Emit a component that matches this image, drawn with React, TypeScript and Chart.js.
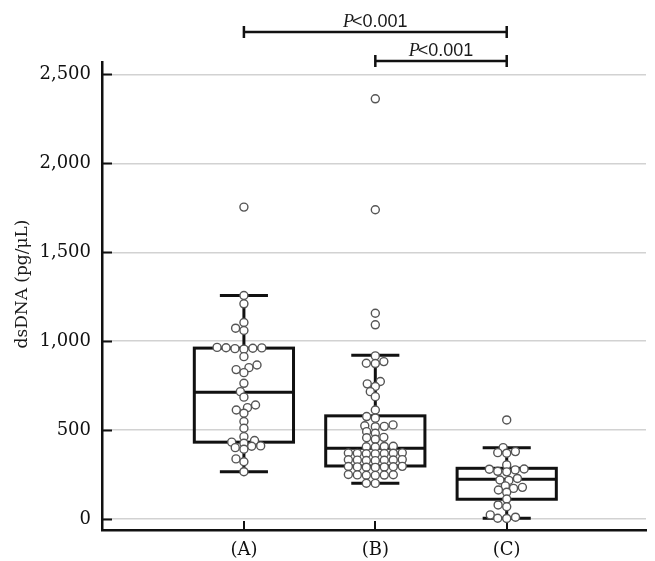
import { useEffect, useRef } from "react";
import { Chart, registerables } from "chart.js";

Chart.register(...registerables);

// ---------- data ----------
const categories = ["(A)", "(B)", "(C)"];

const groupA = [
  1754, 1257, 1210, 1105, 1073, 1060, 958, 962, 955, 965, 960, 963, 913, 866, 851, 840,
  823, 763, 716, 685, 641, 626, 613, 595, 548, 510, 463, 441, 432, 426, 411, 409, 401,
  392, 338, 322, 266,
];
const groupB = [
  2363, 1739, 1157, 1092, 917, 885, 876, 874, 773, 760, 745, 716, 688, 613, 576, 567, 529,
  524, 521, 519, 491, 482, 459, 457, 448, 409, 408, 406, 405, 372, 371, 370, 369, 368, 367,
  366, 334, 333, 332, 331, 330, 329, 328, 296, 295, 294, 293, 292, 291, 290, 250, 249, 248,
  247, 246, 245, 201, 200,
];
const groupC = [
  557, 401, 379, 373, 370, 304, 281, 280, 276, 268, 265, 228, 219, 217, 186, 178, 172, 163,
  150, 112, 79, 69, 23, 10, 4, 3,
];

const boxQ1 = [432, 298, 111];
const boxMedian = [713, 398, 223];
const boxQ3 = [961, 580, 285];
const whiskerLow = [266, 201, 4];
const whiskerHigh = [1257, 921, 401];

const yTicks = [0, 500, 1000, 1500, 2000, 2500];
const yTitle = "dsDNA (pg/μL)";

const compFrom = [0, 1];
const compTo = [2, 2];
const compLabel = ["<0.001", "<0.001"];

// ---------- styling constants ----------
const INK = "#111111";
const BOX_WIDTH = 0.755; // in category units
const CAP_WIDTH = 0.366;
const POINT_R = 4;
const POINT_BW = 1.4;
const SWARM_DX = 9; // px horizontal spacing of swarm points
const SWARM_DY = 6; // px vertical spacing allowed before points collide

function swarmOffsets(pixYs: number[], dX: number, dY: number): number[] {
  const order = pixYs.map((_, i) => i).sort((a, b) => pixYs[b] - pixYs[a]);
  const placed: { x: number; y: number }[] = [];
  const out = new Array(pixYs.length).fill(0);
  const hit = (px: number, py: number, x: number, y: number) =>
    ((px - x) / dX) ** 2 + ((py - y) / dY) ** 2 < 1 - 1e-6;
  for (const i of order) {
    const y = pixYs[i];
    const near = placed.filter((p) => Math.abs(p.y - y) < dY);
    const cands = [0];
    for (const p of near) {
      const dx = dX * Math.sqrt(Math.max(0, 1 - ((p.y - y) / dY) ** 2));
      cands.push(p.x + dx, p.x - dx);
    }
    cands.sort((a, b) => Math.abs(a) - Math.abs(b) || a - b);
    for (const c of cands) {
      if (!near.some((p) => hit(p.x, p.y, c, y))) {
        out[i] = c;
        placed.push({ x: c, y });
        break;
      }
    }
  }
  return out;
}

const boxPlugin = {
  id: "boxPlugin",
  beforeDatasetsDraw(chart: any) {
    const { ctx, chartArea } = chart;
    const xs = chart.scales.x;
    const ys = chart.scales.y;
    ctx.save();
    // inner tick marks
    ctx.strokeStyle = INK;
    ctx.lineWidth = 2;
    for (const v of yTicks) {
      const py = Math.round(ys.getPixelForValue(v)) + 0.5;
      ctx.beginPath();
      ctx.moveTo(chartArea.left, py);
      ctx.lineTo(chartArea.left + 10, py);
      ctx.stroke();
    }
    categories.forEach((_, i) => {
      const px = Math.round(xs.getPixelForValue(i + 1));
      ctx.beginPath();
      ctx.moveTo(px, chartArea.bottom);
      ctx.lineTo(px, chartArea.bottom - 9);
      ctx.stroke();
    });
    // boxes
    ctx.lineWidth = 3;
    ctx.strokeStyle = INK;
    categories.forEach((_, i) => {
      const c = i + 1;
      const cx = xs.getPixelForValue(c);
      const bl = xs.getPixelForValue(c - BOX_WIDTH / 2);
      const br = xs.getPixelForValue(c + BOX_WIDTH / 2);
      const cl = xs.getPixelForValue(c - CAP_WIDTH / 2);
      const cr = xs.getPixelForValue(c + CAP_WIDTH / 2);
      const q1 = ys.getPixelForValue(boxQ1[i]);
      const q3 = ys.getPixelForValue(boxQ3[i]);
      const md = ys.getPixelForValue(boxMedian[i]);
      const wl = ys.getPixelForValue(whiskerLow[i]);
      const wh = ys.getPixelForValue(whiskerHigh[i]);
      ctx.beginPath();
      ctx.moveTo(cx, wh);
      ctx.lineTo(cx, q3);
      ctx.moveTo(cx, q1);
      ctx.lineTo(cx, wl);
      ctx.moveTo(cl, wh);
      ctx.lineTo(cr, wh);
      ctx.moveTo(cl, wl);
      ctx.lineTo(cr, wl);
      ctx.stroke();
      ctx.strokeRect(bl, q3, br - bl, q1 - q3);
      ctx.beginPath();
      ctx.moveTo(bl, md);
      ctx.lineTo(br, md);
      ctx.stroke();
    });
    ctx.restore();
  },
  afterDraw(chart: any) {
    const { ctx, chartArea } = chart;
    const xs = chart.scales.x;
    ctx.save();
    // y-axis title
    ctx.translate(23, (chartArea.top + chartArea.bottom) / 2 - 12);
    ctx.rotate(-Math.PI / 2);
    ctx.font = "17px 'DejaVu Serif'";
    ctx.fillStyle = "#1a1a1a";
    ctx.textAlign = "center";
    ctx.textBaseline = "middle";
    ctx.fillText(yTitle, 0, 0);
    ctx.restore();

    const levels = [chartArea.top - 30, chartArea.top - 1];
    ctx.save();
    ctx.strokeStyle = INK;
    ctx.fillStyle = "#1a1a1a";
    ctx.lineWidth = 2.5;
    compFrom.forEach((f, k) => {
      const x1 = xs.getPixelForValue(f + 1);
      const x2 = xs.getPixelForValue(compTo[k] + 1);
      const y = levels[k];
      ctx.beginPath();
      ctx.moveTo(x1, y);
      ctx.lineTo(x2, y);
      ctx.moveTo(x1, y - 6);
      ctx.lineTo(x1, y + 6);
      ctx.moveTo(x2, y - 6);
      ctx.lineTo(x2, y + 6);
      ctx.stroke();
      const pFont = "italic 18px 'Liberation Serif'";
      const tFont = "18px 'Liberation Sans'";
      ctx.font = pFont;
      const wp = ctx.measureText("P").width;
      ctx.font = tFont;
      const wt = ctx.measureText(compLabel[k]).width;
      const total = wp + wt - 2;
      const sx = (x1 + x2) / 2 - total / 2;
      ctx.textBaseline = "alphabetic";
      ctx.textAlign = "left";
      ctx.font = pFont;
      ctx.fillText("P", sx, y - 5.5);
      ctx.font = tFont;
      ctx.fillText(compLabel[k], sx + wp - 2, y - 5.5);
    });
    ctx.restore();
  },
};

export default function App() {
  const ref = useRef<HTMLCanvasElement>(null);
  useEffect(() => {
    const groups = [groupA, groupB, groupC];
    const chart = new Chart(ref.current!, {
      type: "scatter",
      data: {
        datasets: groups.map((g, i) => ({
          label: categories[i],
          data: g.map((v) => ({ x: i + 1, y: v })),
          pointRadius: POINT_R,
          pointBorderWidth: POINT_BW,
          pointBackgroundColor: "#ffffff",
          pointBorderColor: "#555555",
          pointHoverRadius: POINT_R,
        })),
      },
      options: {
        animation: false,
        responsive: false,
        devicePixelRatio: 1,
        layout: { padding: { left: 0, top: 62, right: 9, bottom: 0 } },
        plugins: { legend: { display: false }, tooltip: { enabled: false } },
        scales: {
          x: {
            type: "linear",
            min: -0.08,
            max: 4.06,
            grid: { display: false, drawTicks: false },
            border: { display: true, color: INK, width: 2.5 },
            afterBuildTicks: (s: any) => {
              s.ticks = categories.map((_, i) => ({ value: i + 1 }));
            },
            afterFit: (s: any) => {
              s.height = 31;
            },
            ticks: {
              padding: 10,
              color: "#111",
              font: { family: "'DejaVu Serif'", size: 18 },
              callback: (v: any) => categories[Number(v) - 1] ?? "",
              maxRotation: 0,
            },
          },
          y: {
            type: "linear",
            min: -62,
            max: 2570,
            grid: { color: "#d2d2d2", lineWidth: 1.5, drawTicks: false },
            border: { display: true, color: INK, width: 2.5 },
            afterBuildTicks: (s: any) => {
              s.ticks = yTicks.map((v) => ({ value: v }));
            },
            afterFit: (s: any) => {
              s.width = 102;
            },
            ticks: {
              padding: 11,
              color: "#111",
              font: { family: "'DejaVu Serif'", size: 18 },
              callback: (v: any) => Number(v).toLocaleString("en-US"),
            },
          },
        },
      },
      plugins: [boxPlugin],
    } as any);

    // beeswarm layout using the chart's own scales
    const xs: any = chart.scales.x;
    const ys: any = chart.scales.y;
    groups.forEach((g, i) => {
      const cx = xs.getPixelForValue(i + 1);
      const offs = swarmOffsets(
        g.map((v) => ys.getPixelForValue(v)),
        SWARM_DX,
        SWARM_DY
      );
      (chart.data.datasets[i] as any).data = g.map((v, k) => ({
        x: xs.getValueForPixel(cx + offs[k]),
        y: v,
      }));
    });
    chart.update("none");

    return () => chart.destroy();
  }, []);

  return (
    <div style={{ position: "absolute", left: 0, top: 0, width: 655, height: 561 }}>
      <canvas ref={ref} width={655} height={561} style={{ display: "block" }} />
    </div>
  );
}
